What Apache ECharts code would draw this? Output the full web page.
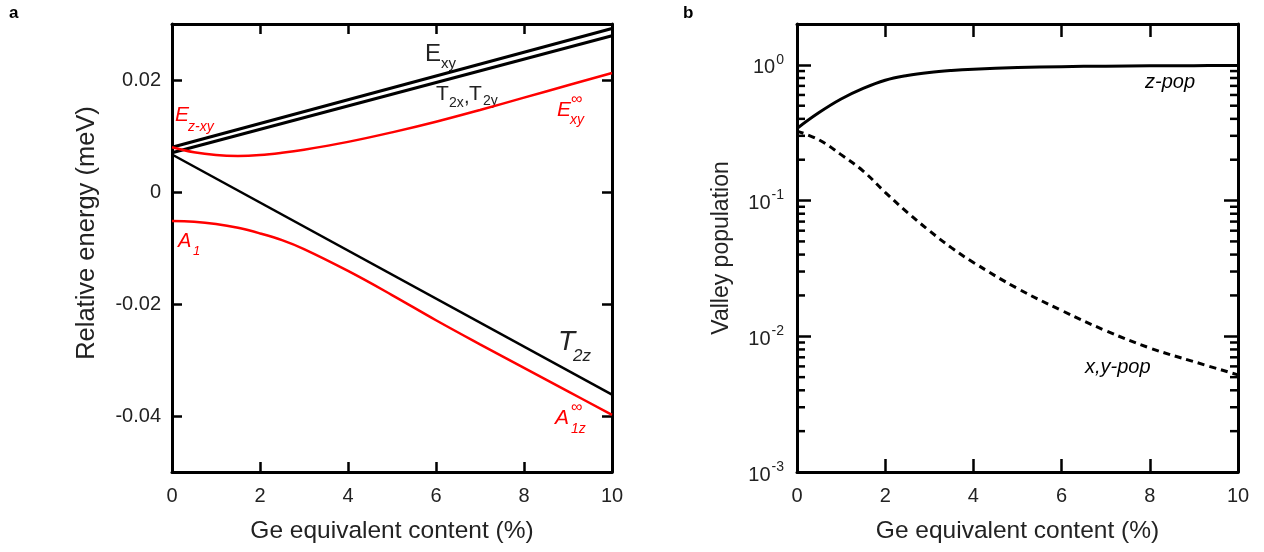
<!DOCTYPE html>
<html>
<head>
<meta charset="utf-8">
<script src="https://cdn.jsdelivr.net/npm/echarts@6/dist/echarts.min.js"></script>
<style>
html,body{margin:0;padding:0;background:#fff;}
#main{width:1264px;height:552px;}
</style>
</head>
<body>
<div id="main"></div>
<script>
// panel a: straight branches (two end points each)
var xLin = [0, 10];
var exyTop = [0.0080, 0.0292];
var t2xy = [0.0070, 0.0279];
var t2z = [0.0067, -0.0362];
// panel a: curved red branches
var xCurve = [0, 0.5, 1, 1.5, 2, 2.5, 3, 4, 5, 6, 7, 8, 9, 10];
var exyInf = [0.0080, 0.0071, 0.0066, 0.00645, 0.0066, 0.0070, 0.00755, 0.00895, 0.01065, 0.01255, 0.01465, 0.01685, 0.01905, 0.02125];
var a1 = [-0.0052, -0.0053, -0.0057, -0.0064, -0.0074, -0.0086, -0.0102, -0.0141, -0.0184, -0.0229, -0.0272, -0.0314, -0.0356, -0.0398];
// panel b: valley populations
var xPop = [0, 0.5, 1, 1.5, 2, 2.5, 3, 3.5, 4, 5, 6, 7, 8, 9, 10];
var zPop = [0.340, 0.445, 0.56, 0.67, 0.77, 0.835, 0.88, 0.91, 0.93, 0.955, 0.97, 0.978, 0.984, 0.987, 0.99];
var xyPop = [0.325, 0.28, 0.218, 0.165, 0.115, 0.082, 0.060, 0.045, 0.035, 0.0225, 0.0155, 0.0110, 0.0082, 0.0065, 0.0052];

var FONT = '"Liberation Sans", Arial, Helvetica, sans-serif';
var TXT = '#222';
var RED = '#ff0000';

function pairs(xs, ys) {
    var out = [];
    for (var i = 0; i < xs.length; i++) out.push([xs[i], ys[i]]);
    return out;
}

// minor ticks of the log axis (2..9 in each decade)
var minorVals = [];
[-3, -2, -1].forEach(function (k) {
    for (var m = 2; m <= 9; m++) minorVals.push([0, m * Math.pow(10, k)]);
});

function xAxisCfg(grid, pos, show) {
    return {
        type: 'value', gridIndex: grid, position: pos, min: 0, max: 10, interval: 2,
        axisLine: {show: true, onZero: false, lineStyle: {color: '#000', width: 3}},
        axisTick: {show: true, inside: true, length: grid === 0 ? 10 : 13, lineStyle: {color: '#000', width: 2.5}},
        axisLabel: {show: show, margin: 14, color: TXT, fontSize: 20, fontFamily: FONT},
        splitLine: {show: false},
        name: show ? 'Ge equivalent content (%)' : '',
        nameLocation: 'middle', nameGap: 47, nameMoveOverlap: false,
        nameTextStyle: {color: TXT, fontSize: 24.5, fontFamily: FONT}
    };
}

function yLinCfg(pos, show) {
    return {
        type: 'value', gridIndex: 0, position: pos, min: -0.05, max: 0.03, splitNumber: 4,
        axisLine: {show: true, onZero: false, lineStyle: {color: '#000', width: 3}},
        axisTick: {show: true, inside: true, length: 10, lineStyle: {color: '#000', width: 2.5}},
        axisLabel: {show: show, showMinLabel: false, showMaxLabel: false, margin: 11,
            color: TXT, fontSize: 20, fontFamily: FONT},
        splitLine: {show: false}
    };
}

function yLogCfg(pos, show) {
    return {
        type: 'log', gridIndex: 1, position: pos, logBase: 10, min: 0.001, max: 2,
        axisLine: {show: true, onZero: false, lineStyle: {color: '#000', width: 3}},
        axisTick: {show: true, inside: true, length: 14, lineStyle: {color: '#000', width: 2.5}},
        axisLabel: {
            show: show, margin: 13, color: TXT, fontFamily: FONT,
            formatter: function (v) {
                var e = Math.round(Math.log(v) / Math.LN10);
                if (Math.abs(Math.pow(10, e) - v) > v * 1e-6) return '';
                return '{b|10}{s|' + e + '}';
            },
            rich: {
                b: {fontSize: 20, fontFamily: FONT, color: TXT, padding: [6, 0, 0, 0]},
                s: {fontSize: 14, fontFamily: FONT, color: TXT, padding: [0, 0, 10, 1]}
            }
        },
        splitLine: {show: false},
        name: show ? 'Valley population' : '',
        nameLocation: 'middle', nameGap: 64, nameMoveOverlap: false,
        nameTextStyle: {color: TXT, fontSize: 23, fontFamily: FONT}
    };
}

function txt(x, y, s, size, color, italic) {
    return {
        type: 'text', x: x, y: y, silent: true,
        style: {text: s, fill: color, fontSize: size, fontFamily: FONT,
            fontStyle: italic ? 'italic' : 'normal', verticalAlign: 'middle', align: 'left'}
    };
}

var panelA = txt(9, 13, 'a', 17, '#000', false);
panelA.style.fontWeight = 'bold';
var panelB = txt(683, 13, 'b', 17, '#000', false);
panelB.style.fontWeight = 'bold';
var yTitleA = {
    type: 'text', x: 87, y: 233, rotation: Math.PI / 2, silent: true,
    style: {text: 'Relative energy (meV)', fill: TXT, fontSize: 25.5, fontFamily: FONT,
        align: 'center', verticalAlign: 'middle'}
};

var annotations = [
    panelA, panelB, yTitleA,
    // black labels
    txt(425, 54, 'E', 24, TXT, false), txt(441, 64, 'xy', 15, TXT, false),
    txt(436, 94, 'T', 21, TXT, false), txt(449, 103, '2x', 14, TXT, false),
    txt(464, 97, ',', 20, TXT, false),
    txt(469, 94, 'T', 21, TXT, false), txt(483, 101, '2y', 14, TXT, false),
    txt(558, 342, 'T', 28, TXT, true), txt(573, 356, '2z', 17, TXT, true),
    // red labels
    txt(175, 115, 'E', 21, RED, true), txt(188, 127, 'z-xy', 14, RED, true),
    txt(557, 110, 'E', 21, RED, true), txt(571, 100, '\u221e', 16, RED, false), txt(570, 120, 'xy', 14, RED, true),
    txt(178, 241, 'A', 20, RED, true), txt(193, 251, '1', 13, RED, true),
    txt(555, 418, 'A', 21, RED, true), txt(571, 408, '\u221e', 16, RED, false), txt(571, 429, '1z', 14, RED, true),
    // panel b labels
    txt(1145, 82, 'z-pop', 20, '#000', true),
    txt(1085, 367, 'x,y-pop', 20, '#000', true)
];

var myChart = echarts.init(document.getElementById('main'), null, {renderer: 'canvas'});
myChart.setOption({
    backgroundColor: '#fff',
    animation: false,
    grid: [
        {left: 172, top: 24, width: 440, height: 448, outerBoundsMode: 'none', containLabel: false},
        {left: 797, top: 24, width: 441, height: 448, outerBoundsMode: 'none', containLabel: false}
    ],
    xAxis: [
        xAxisCfg(0, 'bottom', true),
        xAxisCfg(0, 'top', false),
        xAxisCfg(1, 'bottom', true),
        xAxisCfg(1, 'top', false)
    ],
    yAxis: [
        yLinCfg('left', true),
        yLinCfg('right', false),
        yLogCfg('left', true),
        yLogCfg('right', false)
    ],
    series: [
        {type: 'line', xAxisIndex: 0, yAxisIndex: 0, data: pairs(xLin, exyTop), showSymbol: false,
            lineStyle: {color: '#000', width: 3}},
        {type: 'line', xAxisIndex: 0, yAxisIndex: 0, data: pairs(xLin, t2xy), showSymbol: false,
            lineStyle: {color: '#000', width: 3}},
        {type: 'line', xAxisIndex: 0, yAxisIndex: 0, data: pairs(xLin, t2z), showSymbol: false,
            lineStyle: {color: '#000', width: 2.5}},
        {type: 'line', xAxisIndex: 0, yAxisIndex: 0, data: pairs(xCurve, exyInf), showSymbol: false, smooth: 0.4,
            lineStyle: {color: RED, width: 2.5}},
        {type: 'line', xAxisIndex: 0, yAxisIndex: 0, data: pairs(xCurve, a1), showSymbol: false, smooth: 0.4,
            lineStyle: {color: RED, width: 2.5}},
        {type: 'line', xAxisIndex: 2, yAxisIndex: 2, data: pairs(xPop, zPop), showSymbol: false, smooth: 0.4,
            lineStyle: {color: '#000', width: 3}},
        {type: 'line', xAxisIndex: 2, yAxisIndex: 2, data: pairs(xPop, xyPop), showSymbol: false, smooth: 0.4,
            lineStyle: {color: '#000', width: 3, type: [7, 5]}},
        {
            type: 'custom', xAxisIndex: 2, yAxisIndex: 2, data: minorVals, silent: true, clip: false,
            renderItem: function (params, api) {
                var v = api.value(1);
                var l = api.coord([0, v]);
                var r = api.coord([10, v]);
                var st = {stroke: '#000', lineWidth: 2.5};
                return {
                    type: 'group',
                    children: [
                        {type: 'line', shape: {x1: l[0], y1: l[1], x2: l[0] + 8, y2: l[1]}, style: st},
                        {type: 'line', shape: {x1: r[0] - 8, y1: r[1], x2: r[0], y2: r[1]}, style: st}
                    ]
                };
            }
        }
    ],
    graphic: annotations
});
</script>
</body>
</html>
